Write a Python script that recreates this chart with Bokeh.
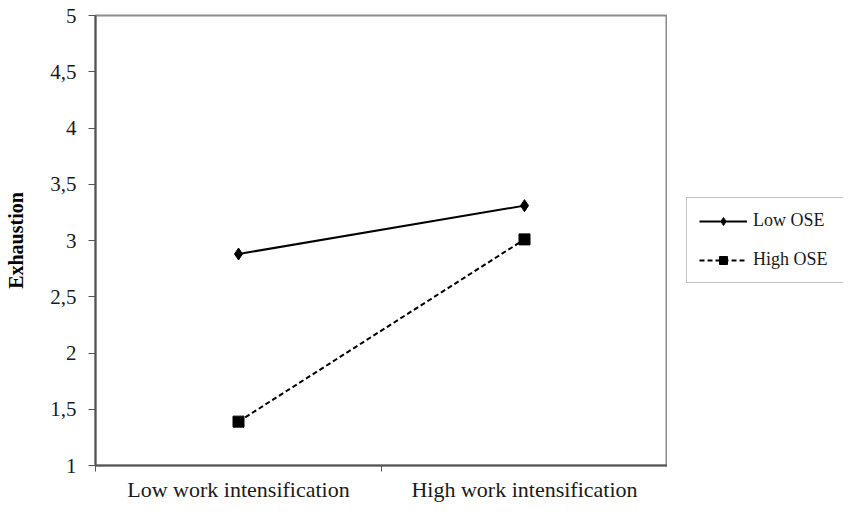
from bokeh.plotting import figure
from bokeh.layouts import row
from bokeh.models import (Legend, LegendItem, FixedTicker, CustomJSTickFormatter, Range1d)
from bokeh.embed import file_html
from bokeh.resources import INLINE

categories = ["Low work intensification", "High work intensification"]
series_names = ["Low OSE", "High OSE"]
low_ose = [2.88, 3.31]
high_ose = [1.39, 3.01]
y_ticks = [1, 1.5, 2, 2.5, 3, 3.5, 4, 4.5, 5]

FONT = "Liberation Serif"

x_pos = [i + 0.5 for i in range(len(categories))]
boundaries = list(range(len(categories) + 1))

p = figure(width=667, height=504, output_backend="svg", toolbar_location=None,
           x_range=Range1d(0, len(categories)), y_range=Range1d(1, 5),
           min_border_left=95, min_border_top=15, min_border_bottom=36,
           min_border_right=0)
p.background_fill_color = "white"
p.border_fill_color = "white"
p.outline_line_color = "#8c8c8c"
p.outline_line_width = 2
p.xgrid.visible = False
p.ygrid.visible = False

# y axis
p.yaxis.ticker = FixedTicker(ticks=y_ticks)
p.yaxis.formatter = CustomJSTickFormatter(code="return tick.toString().replace('.', ',');")
p.yaxis.major_label_text_font = FONT
p.yaxis.major_label_text_font_size = "21px"
p.yaxis.major_label_text_color = "#1a1a1a"
p.yaxis.major_tick_out = 7
p.yaxis.major_tick_in = 0
p.yaxis.minor_tick_out = 0
p.yaxis.minor_tick_in = 0
p.yaxis.major_label_standoff = 12
p.yaxis.axis_line_color = "#555555"
p.yaxis.axis_line_width = 2
p.yaxis.major_tick_line_color = "#555555"
p.yaxis.axis_label = "Exhaustion"
p.yaxis.axis_label_text_font = FONT
p.yaxis.axis_label_text_font_style = "bold"
p.yaxis.axis_label_text_font_size = "20px"
p.yaxis.axis_label_text_color = "#000000"
p.yaxis.axis_label_standoff = 20

# x axis: labels at category centers, tick marks at category boundaries
p.xaxis.ticker = FixedTicker(ticks=x_pos, minor_ticks=boundaries)
p.xaxis.major_label_overrides = {x: c for x, c in zip(x_pos, categories)}
p.xaxis.major_label_text_font = FONT
p.xaxis.major_label_text_font_size = "22px"
p.xaxis.major_label_text_color = "#1a1a1a"
p.xaxis.major_tick_out = 0
p.xaxis.major_tick_in = 0
p.xaxis.minor_tick_out = 6
p.xaxis.minor_tick_in = 0
p.xaxis.minor_tick_line_color = "#555555"
p.xaxis.major_label_standoff = 5
p.xaxis.axis_line_color = "#555555"
p.xaxis.axis_line_width = 2

styles = [dict(line_dash="solid", marker="diamond", size=12),
          dict(line_dash="5 3", marker="square", size=11)]
series = [low_ose, high_ose]
for vals, st in zip(series, styles):
    p.line(x_pos, vals, line_color="black", line_width=2, line_dash=st["line_dash"])
    p.scatter(x_pos, vals, marker=st["marker"], size=st["size"],
              fill_color="black", line_color="black")

# legend panel to the right of the plot frame (its own ranges keep the
# series out of view, so only the legend is seen there)
lp = figure(width=176, height=504, output_backend="svg", toolbar_location=None,
            x_range=Range1d(-20, -19), y_range=Range1d(-20, -19),
            x_axis_type=None, y_axis_type=None, min_border=0)
lp.outline_line_color = None
lp.xgrid.visible = False
lp.ygrid.visible = False
lp.background_fill_color = "white"
lp.border_fill_color = "white"

items = []
for name, vals, st in zip(series_names, series, styles):
    lr = lp.line(x_pos, vals, line_color="black", line_width=2, line_dash=st["line_dash"])
    mr = lp.scatter(x_pos, vals, marker=st["marker"], size=st["size"] - 2,
                    fill_color="black", line_color="black")
    items.append(LegendItem(label=name, renderers=[lr, mr]))

legend = Legend(items=items, location=(19, 182), margin=0, padding=12, spacing=18,
                glyph_width=48, glyph_height=20, label_height=20, label_width=80,
                label_standoff=6, label_text_font=FONT, label_text_font_size="18px",
                label_text_color="#1a1a1a",
                border_line_color="#8c8c8c", border_line_width=1.5,
                background_fill_color="white", background_fill_alpha=1)
lp.add_layout(legend, "center")

layout = row(p, lp, spacing=0)
open("out.html", "w").write(file_html(layout, INLINE))
